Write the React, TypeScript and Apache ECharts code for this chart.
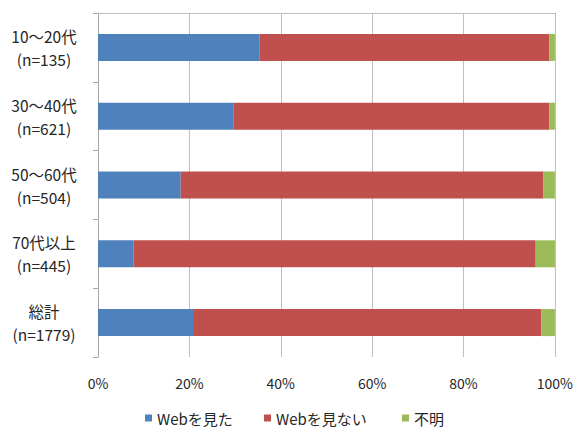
import React, { useEffect, useRef } from "react";
import * as echarts from "echarts";

// Age groups (top to bottom) and respondent counts
const groups = ["10〜20代", "30〜40代", "50〜60代", "70代以上", "総計"];
const counts = [135, 621, 504, 445, 1779];

// Share of respondents, in percent
const sawWeb = [35.4, 29.6, 18.1, 7.8, 20.8];
const didNotSeeWeb = [63.4, 69.2, 79.4, 88.0, 76.2];
const unknown = [1.2, 1.2, 2.5, 4.2, 3.0];

const seriesNames = ["Webを見た", "Webを見ない", "不明"];
const seriesColors = ["#4F81BD", "#C0504D", "#9BBB59"];
const xTicks = { min: 0, max: 100, interval: 20 };

const FONT = "'Noto Sans CJK JP', 'Noto Sans', sans-serif";
const TEXT = "#262626";

// left edge of each legend entry
const legendLefts = [145, 264, 402];

export default function App() {
  const ref = useRef<HTMLDivElement>(null);

  useEffect(() => {
    if (!ref.current) return;
    const chart = echarts.init(ref.current, undefined, { renderer: "svg" });
    const labels = groups.map((g, i) => `${g}\n(n=${counts[i]})`);
    const values = [sawWeb, didNotSeeWeb, unknown];

    chart.setOption({
      animation: false,
      backgroundColor: "#ffffff",
      textStyle: { fontFamily: FONT, color: TEXT },
      grid: { left: 98, right: 21, top: 13, bottom: 70, containLabel: false },
      legend: seriesNames.map((name, i) => ({
        left: legendLefts[i],
        top: 410,
        icon: "rect",
        itemWidth: 7,
        itemHeight: 7,
        padding: 0,
        textStyle: { fontFamily: FONT, fontSize: 15, lineHeight: 16, color: TEXT },
        data: [name],
      })),
      xAxis: [
        {
          type: "value",
          min: xTicks.min,
          max: xTicks.max,
          interval: xTicks.interval,
          axisLine: { show: false },
          axisTick: { show: false },
          axisLabel: {
            formatter: "{value}%",
            fontFamily: FONT,
            fontSize: 14,
            color: TEXT,
            margin: 19,
          },
          splitLine: { show: true, lineStyle: { color: "#BFBFBF", width: 1 } },
        },
        {
          type: "value",
          position: "top",
          min: xTicks.min,
          max: xTicks.max,
          axisLine: { show: true, lineStyle: { color: "#BFBFBF", width: 1 } },
          axisTick: { show: false },
          axisLabel: { show: false },
          splitLine: { show: false },
        },
      ],
      yAxis: {
        type: "category",
        inverse: true,
        data: labels,
        axisLine: { show: true, lineStyle: { color: "#A6A6A6", width: 1 } },
        axisTick: { show: true, length: 5, lineStyle: { color: "#A6A6A6" } },
        axisLabel: {
          align: "center",
          margin: 54,
          fontFamily: FONT,
          fontSize: 15.5,
          lineHeight: 23,
          color: TEXT,
        },
      },
      series: values.map((vals, i) => ({
        name: seriesNames[i],
        type: "bar",
        stack: "total",
        barWidth: 27,
        xAxisIndex: 0,
        itemStyle: { color: seriesColors[i] },
        data: vals,
      })),
    });

    return () => chart.dispose();
  }, []);

  return (
    <div
      ref={ref}
      style={{ position: "fixed", left: 0, top: 0, width: 576, height: 427, background: "#fff" }}
    />
  );
}
